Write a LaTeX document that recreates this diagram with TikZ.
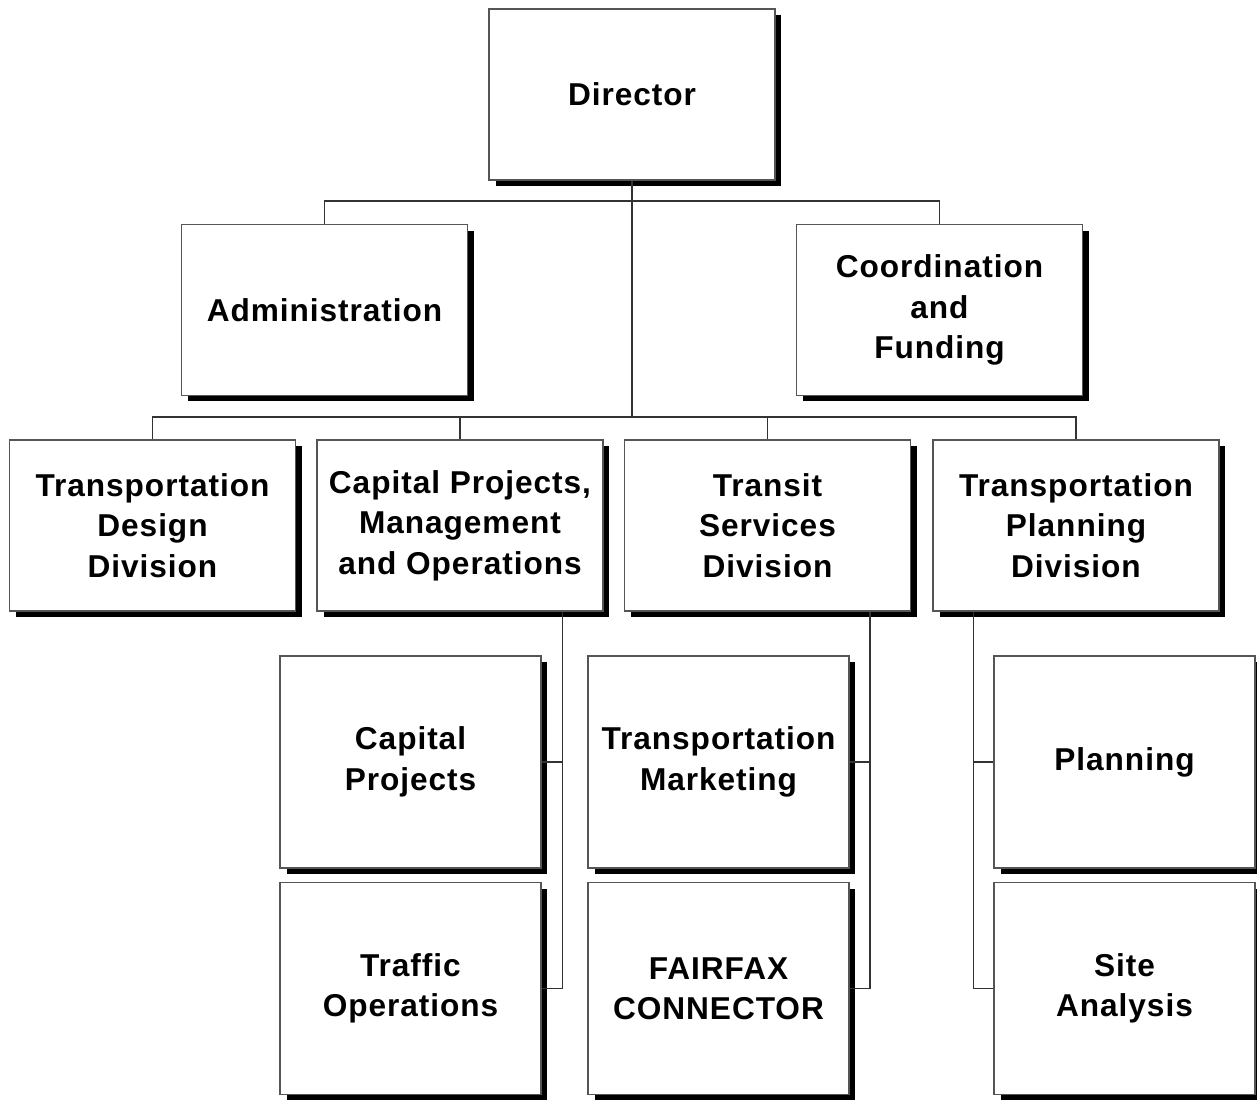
\documentclass[tikz,border=0pt]{standalone}
\usepackage{fontspec}
\usepackage{tikz}
\usepackage{xcolor}
\usetikzlibrary{positioning, shadows}
\newfontfamily\orgfont{Liberation Sans}[LetterSpace=3]
\definecolor{orgline}{HTML}{333333}
\definecolor{orgedge}{HTML}{555555}

\begin{document}
\begin{tikzpicture}[x=0.02cm, y=-0.02cm,
  font=\orgfont\bfseries\fontsize{18}{23}\selectfont,
  unit/.style={draw=orgedge, line width=0.7pt, fill=white, align=center, inner sep=0pt,
    general shadow={fill=black, shadow xshift=0.13cm, shadow yshift=-0.12cm}},
  box/.style={unit, minimum width=5.72cm, minimum height=3.42cm},
  subbox/.style={unit, minimum width=5.22cm, minimum height=4.24cm},
  link/.style={draw=orgline, line width=1pt}]
\useasboundingbox (0,0) rectangle (1257,1099);
% top levels
\node[box] (dir) at (632,94.5) {Director};
\node[box] (adm) at (324.5,310) {Administration};
\node[box] (coo) at (939.5,310) {Coordination\\and\\Funding};
% divisions
\node[box] (tdd) at (152.5,525.5) {Transportation\\Design\\Division};
\node[box] (cpm) at (460,525.5) {Capital Projects,\\Management\\and Operations};
\node[box] (tsd) at (767.5,525.5) {Transit\\Services\\Division};
\node[box] (tpd) at (1076,525.5) {Transportation\\Planning\\Division};
% sections
\node[subbox] (cap) at (410.5,762) {Capital\\Projects};
\node[subbox] (tro) at (410.5,988.5) {Traffic\\Operations};
\node[subbox] (mkt) at (718.5,762) {Transportation\\Marketing};
\node[subbox] (ffx) at (718.5,988.5) {FAIRFAX\\CONNECTOR};
\node[subbox] (pln) at (1124.5,762) {Planning};
\node[subbox] (sit) at (1124.5,988.5) {Site\\Analysis};
% connectors
\coordinate (b1) at (632,201);
\coordinate (b2) at (632,417);
\draw[link] (dir.south) -- (b2);
\draw[link] (adm.north) |- (b1) -| (coo.north);
\draw[link] (tdd.north) |- (b2) -| (tpd.north);
\draw[link] (cpm.north) -- (cpm.north |- b2);
\draw[link] (tsd.north) -- (tsd.north |- b2);
\coordinate (c1) at ([xshift=-0.82cm]cpm.south east);
\coordinate (c2) at ([xshift=-0.82cm]tsd.south east);
\coordinate (c3) at ([xshift=0.82cm]tpd.south west);
\draw[link] (c1) |- (tro.east);
\draw[link] (cap.east) -- (cap.east -| c1);
\draw[link] (c2) |- (ffx.east);
\draw[link] (mkt.east) -- (mkt.east -| c2);
\draw[link] (c3) |- (sit.west);
\draw[link] (pln.west) -- (pln.west -| c3);
\end{tikzpicture}
\end{document}
